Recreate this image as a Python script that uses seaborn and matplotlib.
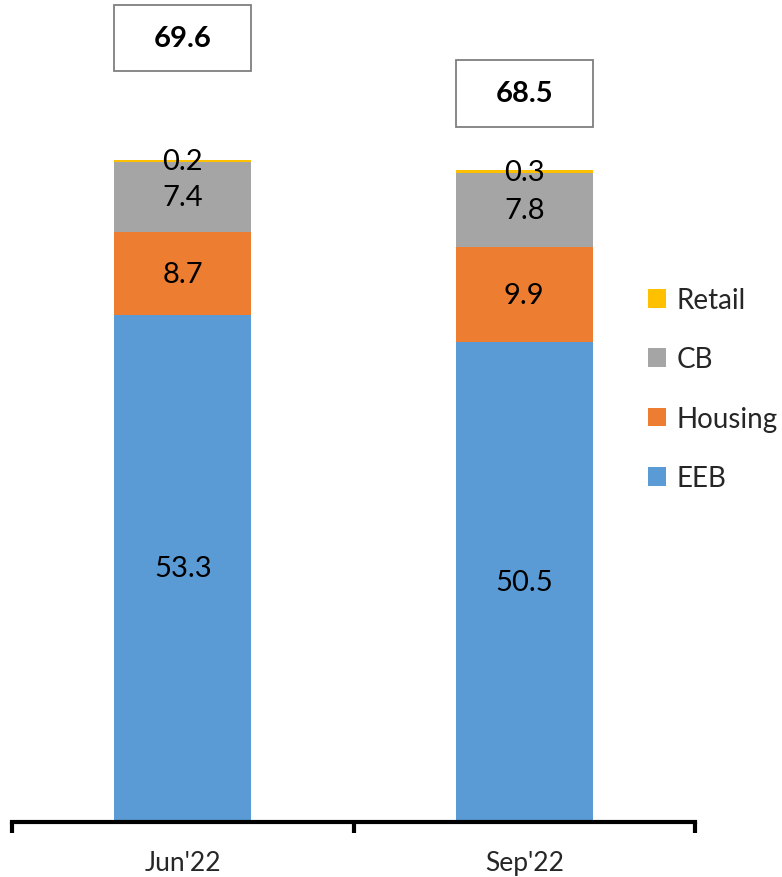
import matplotlib
matplotlib.use("Agg")
import matplotlib.pyplot as plt
import seaborn as sns
import pandas as pd
import numpy as np
from matplotlib.patches import Patch, Rectangle

categories = ["Jun'22", "Sep'22"]
eeb = [53.3, 50.5]
housing = [8.7, 9.9]
cb = [7.4, 7.8]
retail = [0.2, 0.3]
totals = [69.6, 68.5]
series_names = ["EEB", "Housing", "CB", "Retail"]
colors = {"EEB": "#5B9BD5", "Housing": "#ED7D31", "CB": "#A5A5A5", "Retail": "#FFC000"}

sns.set_theme(style="white")
plt.rcParams['font.family'] = ['Lato', 'DejaVu Sans']

fig = plt.figure(figsize=(7.82, 8.78), dpi=100)
ax = fig.add_axes([12/782, 55/878, 683/782, 820/878])

values = {"EEB": eeb, "Housing": housing, "CB": cb, "Retail": retail}
cum = np.zeros(len(categories))
cums = {}
for s in series_names:
    cum = cum + np.array(values[s])
    cums[s] = cum.copy()

for s in reversed(series_names):
    df = pd.DataFrame({"cat": categories, "val": cums[s]})
    sns.barplot(data=df, x="cat", y="val", color=colors[s], width=0.4,
                saturation=1, ax=ax, edgecolor="none", linewidth=0)

# segment labels
for i in range(len(categories)):
    base = 0.0
    for s in series_names:
        v = values[s][i]
        ax.text(i, base + v / 2, f"{v:.1f}", ha="center", va="center",
                fontsize=21, color="black")
        base += v

# total boxes
box_centers = [82.4, 76.6]
box_h = 7.0
for i, t in enumerate(totals):
    rect = Rectangle((i - 0.2, box_centers[i] - box_h / 2), 0.4, box_h,
                     facecolor="white", edgecolor="#7F7F7F", linewidth=1.3)
    ax.add_patch(rect)
    ax.text(i, box_centers[i], f"{t:.1f}", ha="center", va="center",
            fontsize=21, fontweight="bold", color="black")

ax.set_xlim(-0.5, 1.5)
ax.set_ylim(0, 86.2)
ax.set_xlabel("")
ax.set_ylabel("")
ax.set_yticks([])
for sp in ["top", "right", "left"]:
    ax.spines[sp].set_visible(False)
ax.spines["bottom"].set_linewidth(3)
ax.spines["bottom"].set_color("black")
ax.set_xticks([0, 1])
ax.set_xticklabels(categories, fontsize=19)
ax.tick_params(axis="x", which="major", length=0, pad=20)
ax.set_xticks([-0.5, 0.5, 1.5], minor=True)
ax.tick_params(axis="x", which="minor", length=8, width=3, color="black", direction="out", bottom=True)

handles = [Patch(facecolor=colors[s], edgecolor="none") for s in reversed(series_names)]
fig.legend(handles, list(reversed(series_names)), loc="center left",
           bbox_to_anchor=(648/782, 1 - 390/878), frameon=False, fontsize=20,
           handlelength=0.66, handleheight=0.66, handletextpad=0.38, labelspacing=1.2,
           borderaxespad=0, borderpad=0)

fig.savefig("out.png", dpi=100)
